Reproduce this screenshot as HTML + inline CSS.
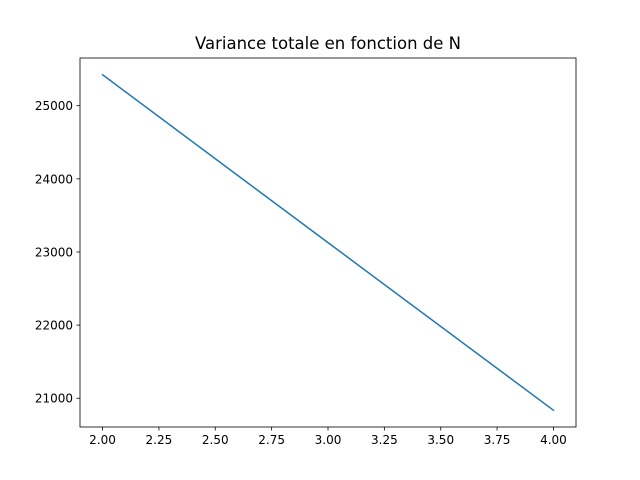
<!DOCTYPE html>
<html><head><meta charset="utf-8"><style>
body{margin:0;background:#fff;}
svg{display:block;font-family:"DejaVu Sans","Liberation Sans",sans-serif;}
</style></head><body>
<svg id="chart" width="640" height="480"></svg>
<script>
const xValues=[2,3,4];
const yValues=[25423,23128,20836];
const xTicks=[2,2.25,2.5,2.75,3,3.25,3.5,3.75,4];
const xTickLabels=["2.00","2.25","2.50","2.75","3.00","3.25","3.50","3.75","4.00"];
const yTicks=[21000,22000,23000,24000,25000];
const yTickLabels=["21000","22000","23000","24000","25000"];
const title="Variance totale en fonction de N";

const L=80,R=576,T=58,B=427;
const xmin=Math.min(...xValues),xmax=Math.max(...xValues);
const ymin=Math.min(...yValues),ymax=Math.max(...yValues);
const xpad=(xmax-xmin)*0.05,ypad=(ymax-ymin)*0.05;
const X=v=>L+(v-(xmin-xpad))/((xmax+xpad)-(xmin-xpad))*(R-L);
const Y=v=>B-(v-(ymin-ypad))/((ymax+ypad)-(ymin-ypad))*(B-T);
const svg=document.getElementById('chart');
const NS='http://www.w3.org/2000/svg';
function mk(tag,attrs,parent){const e=document.createElementNS(NS,tag);for(const k in attrs)e.setAttribute(k,attrs[k]);(parent||svg).appendChild(e);return e;}

const t=mk('text',{x:(L+R)/2,y:T-9,'text-anchor':'middle','font-size':'16.5',fill:'#000'});
t.textContent=title;



xTicks.forEach((v,i)=>{
  const g=mk('g',{});
  
  
  mk('line',{x1:X(v),x2:X(v),y1:B,y2:B+3.5,stroke:'#000','stroke-width':0.8},g);
  const tx=mk('text',{x:X(v),y:B+17,'text-anchor':'middle','font-size':'12',fill:'#000'},g);
  tx.textContent=xTickLabels[i];
});
yTicks.forEach((v,i)=>{
  const g=mk('g',{});
  
  
  mk('line',{x1:L-3.5,x2:L,y1:Y(v),y2:Y(v),stroke:'#000','stroke-width':0.8},g);
  const tx=mk('text',{x:L-7,y:Y(v)+4.5,'text-anchor':'end','font-size':'12',fill:'#000'},g);
  tx.textContent=yTickLabels[i];
});

const pts=xValues.map((v,i)=>X(v)+','+Y(yValues[i])).join(' ');
const line=mk('polyline',{points:pts,fill:'none',stroke:'#1f77b4','stroke-width':1.5,'stroke-linecap':'square'});



const frame=mk('rect',{x:L,y:T,width:R-L,height:B-T,fill:'none',stroke:'#000','stroke-width':0.8});


</script>
</body></html>
